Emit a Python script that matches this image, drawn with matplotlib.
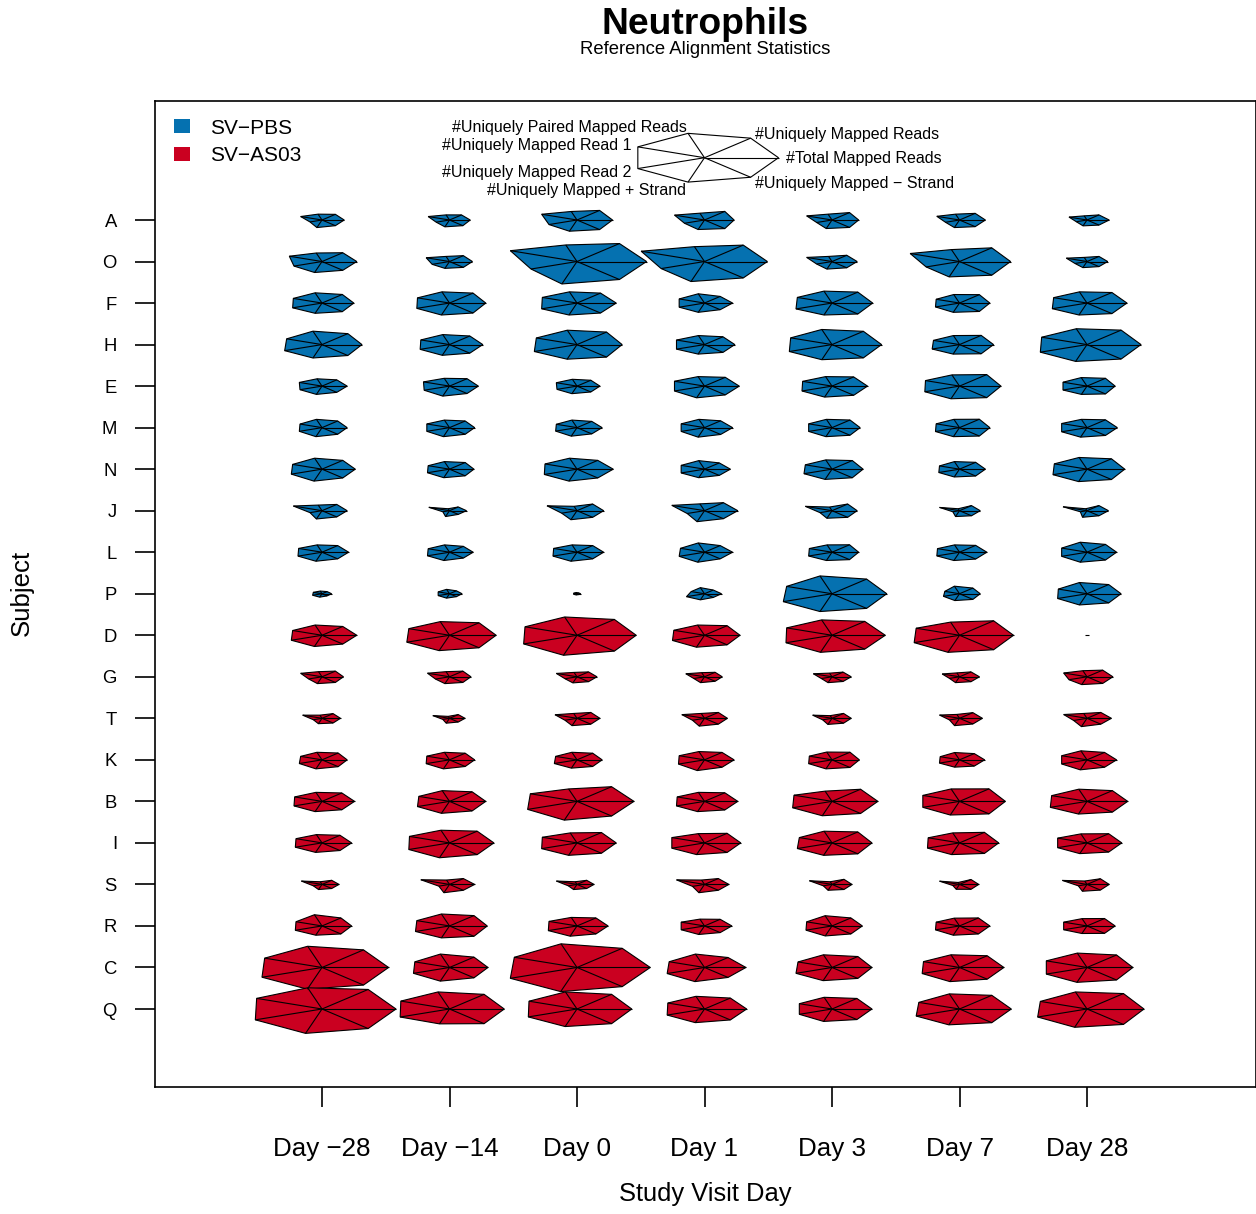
import numpy as np
import matplotlib
matplotlib.use("Agg")
import matplotlib.pyplot as plt
from matplotlib.patches import Polygon, Patch
from matplotlib.collections import LineCollection

plt.rcParams['font.family'] = ['Liberation Sans', 'DejaVu Sans']

# ---------------- data ----------------
days = ["Day \u221228", "Day \u221214", "Day 0", "Day 1", "Day 3", "Day 7", "Day 28"]
subjects = ["A", "O", "F", "H", "E", "M", "N", "J", "L", "P",
            "D", "G", "T", "K", "B", "I", "S", "R", "C", "Q"]
groups = ["SV\u2212PBS"] * 10 + ["SV\u2212AS03"] * 10
group_names = ["SV\u2212PBS", "SV\u2212AS03"]
group_colors = ["#0571B0", "#CA0020"]
variables = ["#Total Mapped Reads", "#Uniquely Mapped Reads",
             "#Uniquely Paired Mapped Reads", "#Uniquely Mapped Read 1",
             "#Uniquely Mapped Read 2", "#Uniquely Mapped + Strand",
             "#Uniquely Mapped \u2212 Strand"]

# scaled values (0..1), rows = subjects, columns = days
total_mapped = [
    [.30, .28, .48, .40, .36, .35, .30],
    [.47, .31, .94, .85, .34, .69, .28],
    [.43, .49, .53, .38, .55, .41, .54],
    [.54, .45, .61, .41, .67, .46, .73],
    [.34, .39, .31, .47, .48, .56, .38],
    [.34, .34, .34, .38, .38, .41, .41],
    [.45, .33, .49, .35, .42, .35, .51],
    [.34, .23, .36, .45, .34, .28, .29],
    [.36, .32, .36, .38, .36, .37, .40],
    [.13, .17, .05, .23, .74, .28, .46],
    [.47, .63, .80, .48, .72, .73, 0.0],
    [.29, .29, .27, .24, .26, .27, .35],
    [.25, .21, .31, .31, .26, .31, .33],
    [.34, .34, .34, .40, .37, .34, .40],
    [.44, .49, .77, .45, .62, .62, .55],
    [.40, .60, .53, .49, .54, .53, .47],
    [.23, .34, .23, .33, .27, .26, .30],
    [.40, .51, .42, .37, .41, .41, .38],
    [.90, .52, .99, .56, .54, .60, .62],
    [1.0, .74, .74, .57, .54, .70, .77],
]
uniquely_mapped = [
    [.29, .26, .49, .44, .38, .34, .26],
    [.45, .30, .92, .84, .32, .70, .26],
    [.44, .51, .51, .34, .56, .43, .54],
    [.56, .44, .64, .40, .68, .47, .74],
    [.32, .38, .30, .45, .47, .59, .40],
    [.34, .34, .32, .35, .39, .43, .40],
    [.45, .34, .45, .32, .44, .35, .53],
    [.32, .19, .34, .41, .34, .26, .26],
    [.34, .30, .34, .34, .38, .35, .40],
    [.11, .15, .04, .19, .75, .29, .47],
    [.45, .64, .81, .49, .71, .74, 0.0],
    [.29, .29, .25, .23, .24, .25, .34],
    [.24, .19, .30, .30, .25, .29, .30],
    [.35, .34, .34, .38, .39, .32, .38],
    [.43, .49, .75, .44, .62, .64, .55],
    [.39, .60, .53, .49, .56, .54, .47],
    [.21, .30, .21, .30, .26, .25, .29],
    [.41, .53, .41, .34, .41, .41, .38],
    [.90, .53, .98, .51, .56, .60, .64],
    [1.0, .75, .75, .56, .54, .70, .79],
]
uniquely_paired = [
    [.24, .21, .35, .28, .24, .24, .17],
    [.35, .21, .68, .61, .21, .49, .17],
    [.42, .46, .46, .38, .49, .35, .46],
    [.55, .41, .59, .37, .62, .37, .65],
    [.30, .32, .28, .39, .39, .46, .35],
    [.34, .31, .31, .34, .34, .34, .34],
    [.45, .31, .45, .35, .38, .31, .48],
    [.23, .08, .18, .28, .15, .08, .08],
    [.30, .30, .30, .38, .30, .30, .41],
    [.11, .18, .05, .25, .73, .31, .46],
    [.42, .56, .75, .42, .63, .54, 0.0],
    [.21, .21, .18, .17, .15, .16, .25],
    [.13, .08, .20, .20, .11, .16, .20],
    [.31, .31, .31, .34, .32, .30, .37],
    [.37, .44, .51, .37, .42, .51, .50],
    [.34, .52, .41, .38, .48, .41, .37],
    [.11, .18, .11, .18, .11, .08, .14],
    [.46, .49, .35, .28, .42, .32, .30],
    [.87, .55, .97, .55, .52, .52, .59],
    [.87, .70, .70, .52, .48, .62, .70],
]
uniquely_read1 = [
    [.32, .32, .53, .45, .38, .34, .27],
    [.49, .35, 1.0, .95, .38, .74, .31],
    [.43, .48, .52, .38, .52, .35, .50],
    [.53, .43, .61, .42, .62, .39, .68],
    [.34, .39, .31, .45, .44, .51, .36],
    [.33, .34, .31, .35, .35, .35, .38],
    [.44, .32, .48, .35, .40, .30, .49],
    [.43, .31, .45, .49, .40, .30, .36],
    [.35, .32, .35, .36, .34, .33, .38],
    [.13, .17, .05, .20, .68, .22, .43],
    [.44, .61, .78, .46, .68, .65, 0.0],
    [.32, .33, .31, .28, .28, .26, .35],
    [.29, .25, .33, .34, .29, .30, .35],
    [.32, .34, .32, .38, .34, .29, .38],
    [.41, .46, .70, .41, .57, .55, .53],
    [.39, .60, .52, .49, .49, .47, .44],
    [.31, .43, .31, .42, .34, .30, .37],
    [.39, .49, .42, .35, .38, .35, .35],
    [.86, .52, .94, .53, .51, .54, .61],
    [.98, .73, .72, .55, .49, .61, .70],
]
uniquely_read2 = [
    [.18, .20, .42, .30, .23, .21, .16],
    [.42, .26, .69, .65, .23, .50, .18],
    [.44, .49, .53, .38, .54, .36, .52],
    [.56, .44, .64, .42, .64, .41, .70],
    [.33, .38, .30, .45, .45, .52, .36],
    [.34, .34, .32, .35, .35, .36, .38],
    [.46, .33, .49, .35, .42, .31, .51],
    [.18, .10, .23, .26, .18, .10, .10],
    [.36, .33, .36, .38, .35, .34, .38],
    [.14, .17, .05, .27, .73, .24, .44],
    [.46, .64, .80, .48, .69, .68, 0.0],
    [.20, .21, .18, .16, .16, .15, .27],
    [.13, .10, .18, .18, .14, .15, .20],
    [.34, .35, .34, .39, .35, .30, .38],
    [.42, .48, .74, .42, .59, .55, .55],
    [.40, .61, .53, .49, .52, .48, .44],
    [.13, .16, .13, .18, .13, .10, .13],
    [.40, .51, .43, .35, .39, .36, .35],
    [.90, .54, 1.0, .56, .54, .56, .61],
    [1.0, .74, .73, .56, .49, .65, .74],
]
plus_strand = [
    [.31, .28, .46, .39, .35, .31, .24],
    [.45, .28, .92, .82, .31, .63, .25],
    [.42, .49, .49, .38, .49, .38, .49],
    [.55, .44, .60, .39, .62, .39, .69],
    [.34, .41, .31, .48, .45, .52, .34],
    [.37, .37, .35, .39, .37, .37, .39],
    [.49, .35, .49, .35, .42, .32, .51],
    [.34, .24, .37, .45, .31, .24, .27],
    [.37, .34, .37, .41, .34, .34, .41],
    [.14, .18, .05, .25, .73, .28, .46],
    [.46, .63, .82, .49, .70, .70, 0.0],
    [.28, .28, .25, .24, .24, .24, .32],
    [.22, .20, .30, .32, .25, .30, .34],
    [.37, .37, .34, .44, .37, .30, .41],
    [.42, .49, .77, .42, .59, .56, .52],
    [.39, .61, .51, .48, .51, .48, .44],
    [.21, .34, .21, .34, .24, .20, .28],
    [.38, .49, .42, .35, .41, .38, .31],
    [.89, .56, .99, .58, .54, .58, .61],
    [1.0, .61, .72, .56, .51, .65, .75],
]
minus_strand = [
    [.29, .29, .49, .44, .38, .34, .26],
    [.45, .30, .92, .84, .32, .70, .26],
    [.44, .51, .51, .34, .56, .43, .54],
    [.56, .44, .64, .40, .68, .47, .74],
    [.32, .38, .30, .45, .47, .59, .40],
    [.34, .34, .32, .35, .39, .43, .40],
    [.45, .34, .45, .32, .44, .35, .53],
    [.32, .19, .34, .41, .34, .26, .26],
    [.34, .30, .34, .34, .38, .35, .40],
    [.11, .15, .04, .19, .75, .29, .47],
    [.45, .64, .81, .49, .71, .74, 0.0],
    [.29, .29, .25, .23, .24, .25, .34],
    [.24, .19, .30, .30, .25, .29, .30],
    [.35, .34, .34, .38, .39, .32, .38],
    [.43, .49, .75, .44, .62, .64, .55],
    [.39, .60, .53, .49, .56, .54, .47],
    [.21, .30, .21, .30, .26, .25, .29],
    [.41, .53, .41, .34, .41, .41, .38],
    [.90, .53, .98, .51, .56, .60, .64],
    [1.0, .75, .75, .56, .54, .70, .79],
]

# ---------------- layout ----------------
W, H = 1256, 1214
fig = plt.figure(figsize=(W / 100, H / 100), dpi=100)
ax_l, ax_r, ax_t, ax_b = 155, 1255.5, 101, 1087
ax = fig.add_axes([ax_l / W, 1 - ax_b / H, (ax_r - ax_l) / W, (ax_b - ax_t) / H])

px_x = 127.5          # pixels per day step
px_y = 41.526         # pixels per subject step
x0_px, y0_px = 322, 1009
ax.set_xlim((ax_l - x0_px) / px_x, (ax_r - x0_px) / px_x)
ax.set_ylim((y0_px - ax_b) / px_y, (y0_px - ax_t) / px_y)

RX = 74.0 / px_x      # star unit radius in x data units
RY = 25.0 / px_y      # star unit radius in y data units
nvar = len(variables)
angles = 2 * np.pi * np.arange(nvar) / nvar

data = np.stack([np.array(v, dtype=float) for v in
                 (total_mapped, uniquely_mapped, uniquely_paired, uniquely_read1,
                  uniquely_read2, plus_strand, minus_strand)], axis=-1)

nsub = len(subjects)
color_of = {g: c for g, c in zip(group_names, group_colors)}
segs = []
for k, s in enumerate(subjects):
    yc = nsub - 1 - k
    for j in range(len(days)):
        r = data[k, j]
        xs = j + r * RX * np.cos(angles)
        ys = yc + r * RY * np.sin(angles)
        if np.all(r == 0):
            # degenerate star: R still leaves a tiny dot of ink
            ax.plot([j], [yc], marker='_', color='black', markersize=2.5,
                    markeredgewidth=0.8, zorder=3)
            continue
        ax.add_patch(Polygon(np.column_stack([xs, ys]), closed=True,
                             facecolor=color_of[groups[k]], edgecolor='black',
                             linewidth=0.8, zorder=2))
        for xv, yv in zip(xs, ys):
            segs.append([(j, yc), (xv, yv)])
ax.add_collection(LineCollection(segs, colors='black', linewidths=0.8, zorder=3))

# ---------------- key ----------------
kx, ky = 3.0, 20.5
kxs = kx + RX * np.cos(angles)
kys = ky + RY * np.sin(angles)
ax.add_patch(Polygon(np.column_stack([kxs, kys]), closed=True, fill=False,
                     edgecolor='black', linewidth=0.8, zorder=2))
ax.add_collection(LineCollection([[(kx, ky), (a, b)] for a, b in zip(kxs, kys)],
                                 colors='black', linewidths=0.8, zorder=3))
key_fs = 11.5
cap = 0.716 * key_fs
deg = 180 / np.pi
for a, lab in zip(angles, variables):
    ad = a * deg
    if ad < 90 or ad > 270:
        ha = 'left'
    elif 90 < ad < 270:
        ha = 'right'
    else:
        ha = 'center'
    if ad <= 90:
        vadj = (1 - ad / 90) / 2
    elif ad <= 270:
        vadj = (ad - 90) / 180
    else:
        vadj = 1 - (ad - 270) / 180
    lx = kx + 1.1 * RX * np.cos(a)
    ly = ky + 1.1 * RY * np.sin(a)
    ax.annotate(lab, (lx, ly), xytext=(0, -vadj * cap), textcoords='offset points',
                ha=ha, va='baseline', fontsize=key_fs, zorder=4)

# ---------------- axes styling ----------------
ax.set_xticks(range(len(days)))
ax.set_xticklabels(days, fontsize=18.7)
ax.set_yticks([nsub - 1 - k for k in range(nsub)])
ax.set_yticklabels(subjects, fontsize=13.3)
ax.tick_params(axis='x', length=14.4, width=1.2, pad=21.5)
ax.tick_params(axis='y', length=14.4, width=1.2, pad=13)
for sp in ax.spines.values():
    sp.set_linewidth(1.2)

fig.text(705 / W, 1 - 1194 / H, "Study Visit Day", ha='center', va='center', fontsize=18.4)
fig.text(22 / W, 1 - 593 / H, "Subject", ha='center', va='center', rotation=90, fontsize=18.6)
fig.text(705.5 / W, 1 - 25 / H, "Neutrophils", ha='center', va='center',
         fontsize=26.8, fontweight='bold')
fig.text(705 / W, 1 - 49.5 / H, "Reference Alignment Statistics", ha='center', va='center',
         fontsize=13.3)

handles = [Patch(facecolor=c, edgecolor='none') for c in group_colors]
ax.legend(handles, group_names, loc='upper left',
          bbox_to_anchor=((174 - ax_l) / (ax_r - ax_l), (ax_b - 118.5) / (ax_b - ax_t)),
          frameon=False, fontsize=15, handlelength=0.77, handleheight=0.65,
          handletextpad=0.95, labelspacing=0.42, borderpad=0, borderaxespad=0)

fig.savefig("out.png", dpi=100)
